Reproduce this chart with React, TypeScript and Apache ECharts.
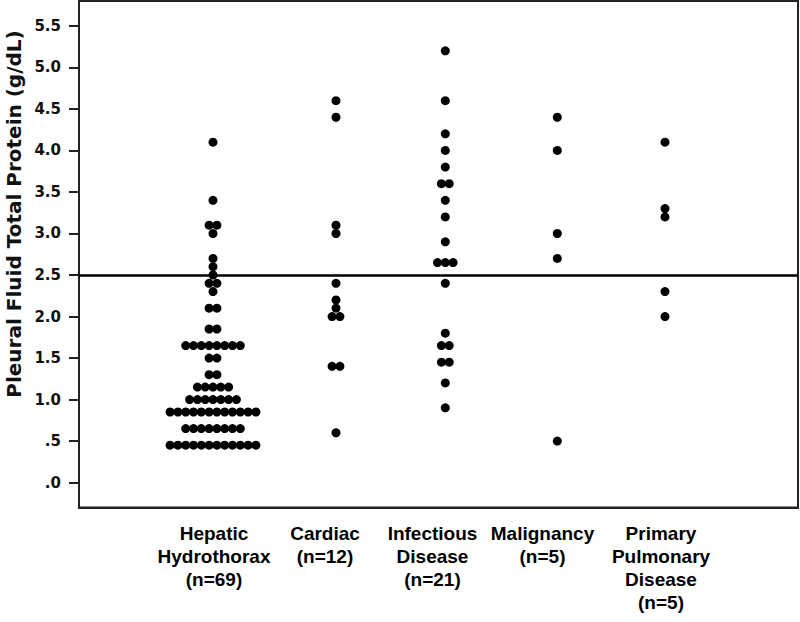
import React, { useEffect, useRef } from "react";
import * as echarts from "echarts";

// Category labels (x axis)
const categories = [
  "Hepatic\nHydrothorax\n(n=69)",
  "Cardiac\n(n=12)",
  "Infectious\nDisease\n(n=21)",
  "Malignancy\n(n=5)",
  "Primary\nPulmonary\nDisease\n(n=5)",
];

// Column centres of the dots and of the labels on the (hidden-unit) x scale
const columnX = [1.34, 2.57, 3.663, 4.783, 5.86];
const labelX = [1.35, 2.46, 3.535, 4.635, 5.82];

// Values (g/dL)
const hepatic = [
  4.1, 3.4, 3.1, 3.1, 3.0, 2.7, 2.6, 2.5, 2.4, 2.4, 2.3, 2.1, 2.1,
  1.85, 1.85,
  1.65, 1.65, 1.65, 1.65, 1.65, 1.65, 1.65, 1.65,
  1.5, 1.5,
  1.3, 1.3,
  1.15, 1.15, 1.15, 1.15, 1.15,
  1.0, 1.0, 1.0, 1.0, 1.0, 1.0, 1.0,
  0.85, 0.85, 0.85, 0.85, 0.85, 0.85, 0.85, 0.85, 0.85, 0.85, 0.85, 0.85,
  0.65, 0.65, 0.65, 0.65, 0.65, 0.65, 0.65, 0.65,
  0.45, 0.45, 0.45, 0.45, 0.45, 0.45, 0.45, 0.45, 0.45, 0.45, 0.45, 0.45,
];
const cardiac = [4.6, 4.4, 3.1, 3.0, 2.4, 2.2, 2.1, 2.0, 2.0, 1.4, 1.4, 0.6];
const infectious = [
  5.2, 4.6, 4.2, 4.0, 3.8, 3.6, 3.6, 3.4, 3.2, 2.9, 2.65, 2.65, 2.65, 2.4,
  1.8, 1.65, 1.65, 1.45, 1.45, 1.2, 0.9,
];
const malignancy = [4.4, 4.0, 3.0, 2.7, 0.5];
const primaryPulmonary = [4.1, 3.3, 3.2, 2.3, 2.0];

const groups = [hepatic, cardiac, infectious, malignancy, primaryPulmonary];

// Y axis ticks
const yTicks = [0, 0.5, 1, 1.5, 2, 2.5, 3, 3.5, 4, 4.5, 5, 5.5];
const yTickLabels = [".0", ".5", "1.0", "1.5", "2.0", "2.5", "3.0", "3.5", "4.0", "4.5", "5.0", "5.5"];

const cutoff = 2.5;
const yTitle = "Pleural Fluid Total Protein (g/dL)";

const DOT_STEP = 0.078; // horizontal step between dots sharing a value, x units

function swarm(values: number[], cx: number): number[][] {
  const counts = new Map<number, number>();
  values.forEach((v) => counts.set(v, (counts.get(v) || 0) + 1));
  const seen = new Map<number, number>();
  return values.map((v) => {
    const n = counts.get(v) || 1;
    const i = seen.get(v) || 0;
    seen.set(v, i + 1);
    return [cx + (i - (n - 1) / 2) * DOT_STEP, v];
  });
}

export default function App() {
  const ref = useRef<HTMLDivElement>(null);
  useEffect(() => {
    if (!ref.current) return;
    const chart = echarts.init(ref.current, null, { renderer: "svg" });
    const series: any[] = groups.map((vals, gi) => ({
      type: "scatter",
      data: swarm(vals, columnX[gi]),
      symbol: "circle",
      symbolSize: 9,
      itemStyle: { color: "#000", opacity: 1 },
      silent: true,
      ...(gi === 0
        ? {
            markLine: {
              silent: true,
              symbol: ["none", "none"],
              label: { show: false },
              lineStyle: { color: "#000", width: 2.5, type: "solid" },
              data: [{ yAxis: cutoff }],
            },
          }
        : {}),
    }));
    chart.setOption({
      animation: false,
      backgroundColor: "#fff",
      grid: {
        left: 79,
        right: 2,
        top: 1,
        bottom: 114.5,
        show: true,
        borderColor: "#222",
        borderWidth: 2,
        backgroundColor: "transparent",
      },
      xAxis: {
        type: "value",
        min: 0,
        max: 7.19,
        splitLine: { show: false },
        axisLine: { show: true, onZero: false, lineStyle: { color: "#222", width: 2 } },
        axisTick: { show: false },
        axisLabel: {
          customValues: labelX,
          margin: 14,
          formatter: (v: number) => {
            const i = labelX.findIndex((t) => Math.abs(t - v) < 1e-6);
            return i >= 0 ? categories[i] : "";
          },
          color: "#000",
          fontFamily: "Liberation Sans, Arial, sans-serif",
          fontWeight: "bold",
          fontSize: 19,
          lineHeight: 23,
          align: "center",
          verticalAlign: "top",
        },
      },
      yAxis: {
        type: "value",
        min: -0.3,
        max: 5.8,
        splitLine: { show: false },
        axisLine: { show: true, onZero: false, lineStyle: { color: "#222", width: 2 } },
        axisTick: {
          show: true,
          customValues: yTicks,
          length: 10,
          lineStyle: { color: "#222", width: 2 },
        },
        axisLabel: {
          customValues: yTicks,
          margin: 18,
          formatter: (v: number) => {
            const i = yTicks.findIndex((t) => Math.abs(t - v) < 1e-6);
            return i >= 0 ? yTickLabels[i] : "";
          },
          color: "#111",
          fontFamily: "DejaVu Sans, Verdana, sans-serif",
          fontSize: 15,
          fontWeight: "bold",
        },
      },
      graphic: [
        {
          type: "text",
          x: 14,
          y: 214,
          rotation: Math.PI / 2,
          style: {
            text: yTitle,
            fill: "#111",
            font: "bold 20px 'DejaVu Sans', Verdana, sans-serif",
            textAlign: "center",
            textVerticalAlign: "middle",
          },
        },
      ],
      series,
    });
    return () => chart.dispose();
  }, []);
  return (
    <div
      ref={ref}
      style={{ position: "fixed", left: 0, top: 0, width: 800, height: 622, background: "#fff" }}
    />
  );
}
